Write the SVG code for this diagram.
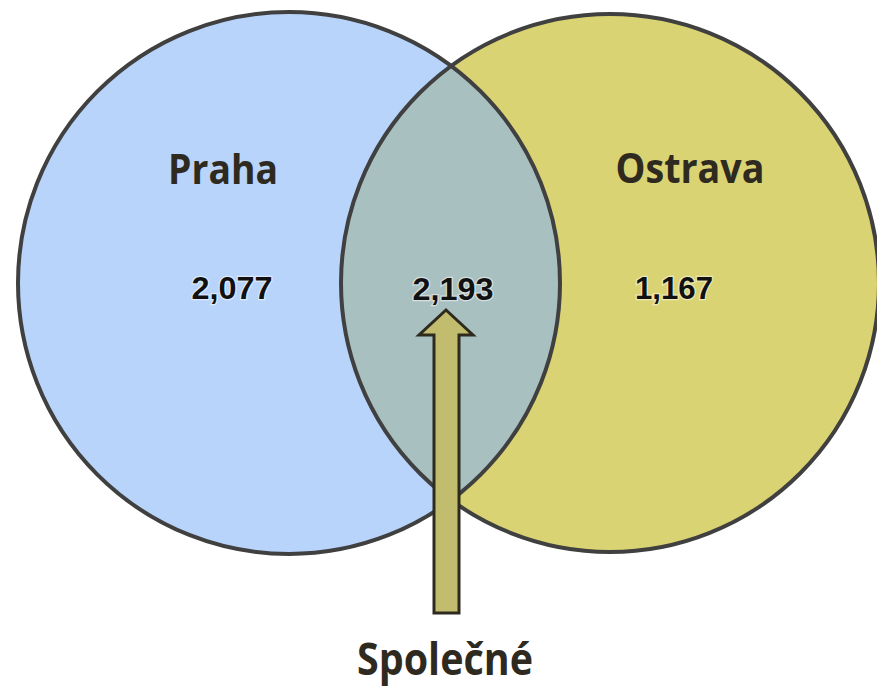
<svg xmlns="http://www.w3.org/2000/svg" width="877" height="687" viewBox="0 0 877 687">
  <style>
    .ring { fill: none; stroke: #404040; stroke-width: 4; }
    .title { font-family: "Open Sans", "Noto Sans", "Liberation Sans", sans-serif; font-weight: bold; fill: #2f2a1f; text-anchor: middle; }
    .num { font-family: "Liberation Sans", Arial, sans-serif; font-weight: bold; font-size: 31px; fill: #111; text-anchor: middle; stroke: #ffffff; stroke-opacity: 0.5; stroke-width: 2.5; paint-order: stroke; }
    .arrow { fill: #c2bc6e; stroke: #2e2a1e; stroke-width: 3; stroke-linejoin: miter; }
  </style>
  <defs>
    <clipPath id="clipLeft">
      <circle cx="289" cy="283" r="271"/>
    </clipPath>
  </defs>
  <rect width="877" height="687" fill="#ffffff"/>
  <g id="praha">
    <circle cx="289" cy="283" r="271" fill="#b8d4fb"/>
  </g>
  <g id="ostrava">
    <circle cx="610" cy="283" r="269" fill="#dad373"/>
  </g>
  <g id="spolecne-region">
    <circle cx="610" cy="283" r="269" fill="#a9c0c0" clip-path="url(#clipLeft)"/>
  </g>
  <g id="outlines">
    <circle class="ring" cx="289" cy="283" r="271"/>
    <circle class="ring" cx="610" cy="283" r="269"/>
  </g>
  <g id="labels">
    <text class="title" x="223" y="184" font-size="42" textLength="110" lengthAdjust="spacingAndGlyphs">Praha</text>
    <text class="title" x="690" y="183" font-size="42" textLength="149" lengthAdjust="spacingAndGlyphs">Ostrava</text>
    <text class="num" x="232" y="299" textLength="81" lengthAdjust="spacingAndGlyphs">2,077</text>
    <text class="num" x="453" y="300" textLength="81" lengthAdjust="spacingAndGlyphs">2,193</text>
    <text class="num" x="674" y="299" textLength="78" lengthAdjust="spacingAndGlyphs">1,167</text>
  </g>
  <g id="connectors">
    <path class="arrow" d="M446,310 L473,335 L459,335 L459,613 L434,613 L434,335 L419,335 Z"/>
  </g>
  <g id="spolecne-label">
    <text class="title" x="445" y="675" font-size="44" textLength="176" lengthAdjust="spacingAndGlyphs">Společné</text>
  </g>
</svg>
